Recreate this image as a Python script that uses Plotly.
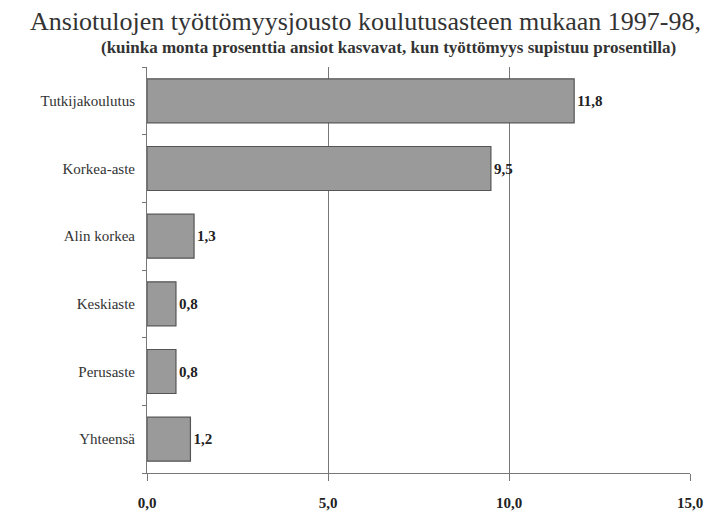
import plotly.graph_objects as go

categories = ["Tutkijakoulutus", "Korkea-aste", "Alin korkea", "Keskiaste", "Perusaste", "Yhteensä"]
values = [11.8, 9.5, 1.3, 0.8, 0.8, 1.2]
value_labels = ["11,8", "9,5", "1,3", "0,8", "0,8", "1,2"]
tick_vals = [0, 5, 10, 15]
tick_text = ["0,0", "5,0", "10,0", "15,0"]

serif = "Liberation Serif, Times New Roman, serif"

fig = go.Figure(go.Bar(
    y=categories,
    x=values,
    orientation="h",
    text=["<b>%s</b>" % t for t in value_labels],
    textposition="outside",
    cliponaxis=False,
    textfont=dict(family=serif, size=15, color="#222"),
    marker=dict(color="#9a9a9a", line=dict(color="#555", width=1.2)),
    width=0.65,
))

top, bottom = 67, 44
plot_h = 517 - top - bottom
plot_w = 709 - 147 - 19


def paper_y(px):
    # pixel row from the top of the page -> paper y
    return 1 + (top - px) / plot_h


def paper_x(px):
    # pixel column from the left of the page -> paper x
    return (px - 147) / plot_w


fig.update_layout(
    width=709, height=517,
    margin=dict(l=147, r=19, t=top, b=bottom),
    paper_bgcolor="white", plot_bgcolor="white",
    font=dict(family=serif, color="#333"),
    showlegend=False,
    annotations=[
        dict(text="Ansiotulojen työttömyysjousto koulutusasteen mukaan 1997-98,",
             x=paper_x(365), xref="paper", xanchor="center",
             y=paper_y(21), yref="paper", yanchor="middle",
             showarrow=False, font=dict(family=serif, size=26, color="#333")),
        dict(text="<b>(kuinka monta prosenttia ansiot kasvavat, kun työttömyys supistuu prosentilla)</b>",
             x=paper_x(388), xref="paper", xanchor="center",
             y=paper_y(47), yref="paper", yanchor="middle",
             showarrow=False, font=dict(family=serif, size=17, color="#333")),
    ],
)

fig.update_xaxes(
    range=[0, 15], tickvals=tick_vals,
    ticktext=["<b>%s</b>" % t for t in tick_text],
    showgrid=True, gridcolor="#777", gridwidth=1,
    showline=True, linecolor="#777", linewidth=1,
    ticks="outside", ticklen=7, tickcolor="#777",
    ticklabelstandoff=9, automargin=False,
    tickfont=dict(family=serif, size=15, color="#222"),
    zeroline=False, fixedrange=True,
)
fig.update_yaxes(
    categoryorder="array", categoryarray=categories[::-1],
    showline=True, linecolor="#777", linewidth=1,
    ticks="outside", tickson="boundaries", ticklen=4, tickcolor="#777",
    tickfont=dict(family=serif, size=15, color="#333"),
    ticklabelstandoff=8, automargin=False,
    showgrid=False, fixedrange=True,
)

fig.write_html("out.html")
